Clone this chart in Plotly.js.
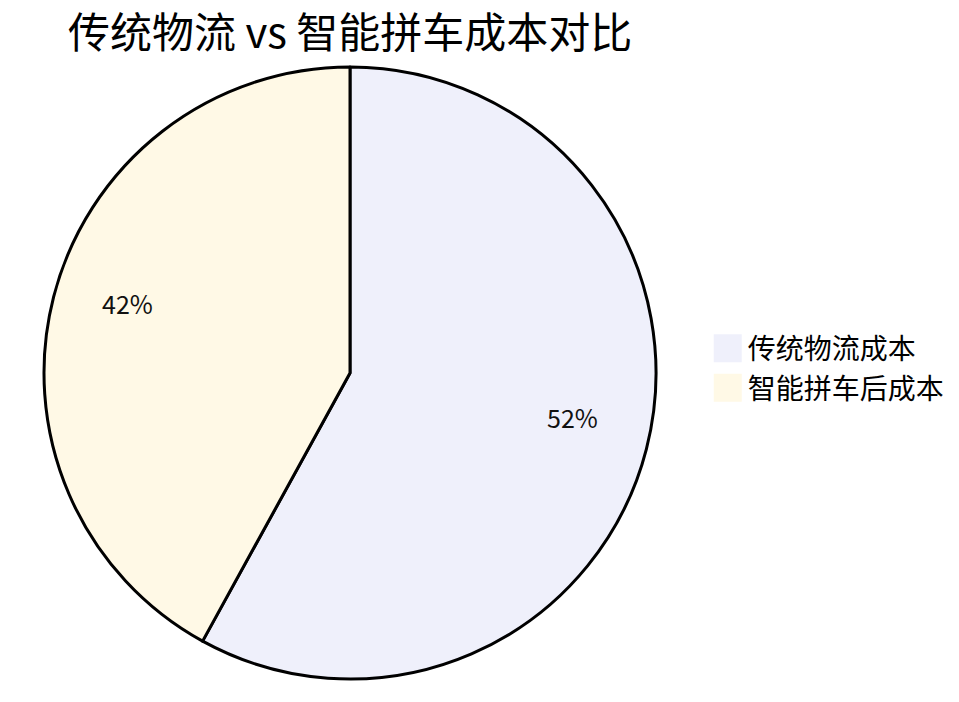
<!DOCTYPE html>
<html>
<head>
<meta charset="utf-8">
<script src="https://cdn.plot.ly/plotly-3.0.1.min.js"></script>
<style>
  html, body { margin: 0; padding: 0; background: #fff; }
  #chart { width: 959px; height: 702px; }
</style>
</head>
<body>
<div id="chart"></div>
<script>
    var labels = ['传统物流成本', '智能拼车后成本'];
    var values = [58, 42];
    var shownText = ['52%', '42%'];
    var colors = ['#EFF0FB', '#FFF9E6'];

    var W = 959, H = 702;
    var mt = 67, mb = 23;
    var cx = 350, r = (H - mt - mb) / 2;
    var pctDistance = 0.75;

    var trace = {
        type: 'pie',
        labels: labels,
        values: values,
        textinfo: 'none',
        sort: false,
        direction: 'clockwise',
        rotation: 0,
        hoverinfo: 'label+percent',
        marker: {
            colors: colors,
            line: {color: '#000', width: 3}
        },
        domain: {x: [(cx - r) / W, (cx + r) / W], y: [0, 1]}
    };

    // percentage labels at the middle angle of each slice (paper = plot area)
    var total = values.reduce(function (a, b) { return a + b; }, 0);
    var annotations = [];
    var acc = 0;
    for (var i = 0; i < values.length; i++) {
        var mid = (acc + values[i] / 2) / total * 2 * Math.PI;
        acc += values[i];
        var dx = pctDistance * r * Math.sin(mid);
        var dy = pctDistance * r * Math.cos(mid);
        annotations.push({
            text: shownText[i],
            x: (cx + dx) / W,
            y: 0.5 + dy / (H - mt - mb),
            xref: 'paper', yref: 'paper',
            yshift: 13,
            showarrow: false,
            xanchor: 'center', yanchor: 'middle',
            font: {size: 25, color: '#111'}
        });
    }

    var layout = {
        width: W,
        height: H,
        paper_bgcolor: '#fff',
        margin: {t: mt, r: 0, l: 0, b: mb},
        font: {
            family: '"Noto Sans CJK SC", "Noto Sans", sans-serif',
            color: '#000'
        },
        title: {
            text: '传统物流 vs 智能拼车成本对比',
            font: {size: 42, color: '#000'},
            x: 68 / W,
            xanchor: 'left',
            xref: 'container',
            y: 1 - 33 / H,
            yanchor: 'middle',
            yref: 'container'
        },
        annotations: annotations,
        showlegend: true,
        legend: {
            x: 0.738,
            xanchor: 'left',
            y: 0.508,
            yanchor: 'middle',
            font: {size: 28, color: '#000'},
            bgcolor: 'rgba(0,0,0,0)'
        }
    };

    Plotly.newPlot('chart', [trace], layout, {displayModeBar: false}).then(function () {
        // bigger borderless legend swatches
        document.querySelectorAll('.legendpoints path.legendpie').forEach(function (p) {
            p.setAttribute('d', 'M14,14H-14V-14H14Z');
            p.style.strokeWidth = '0px';
        });
    });
</script>
</body>
</html>
